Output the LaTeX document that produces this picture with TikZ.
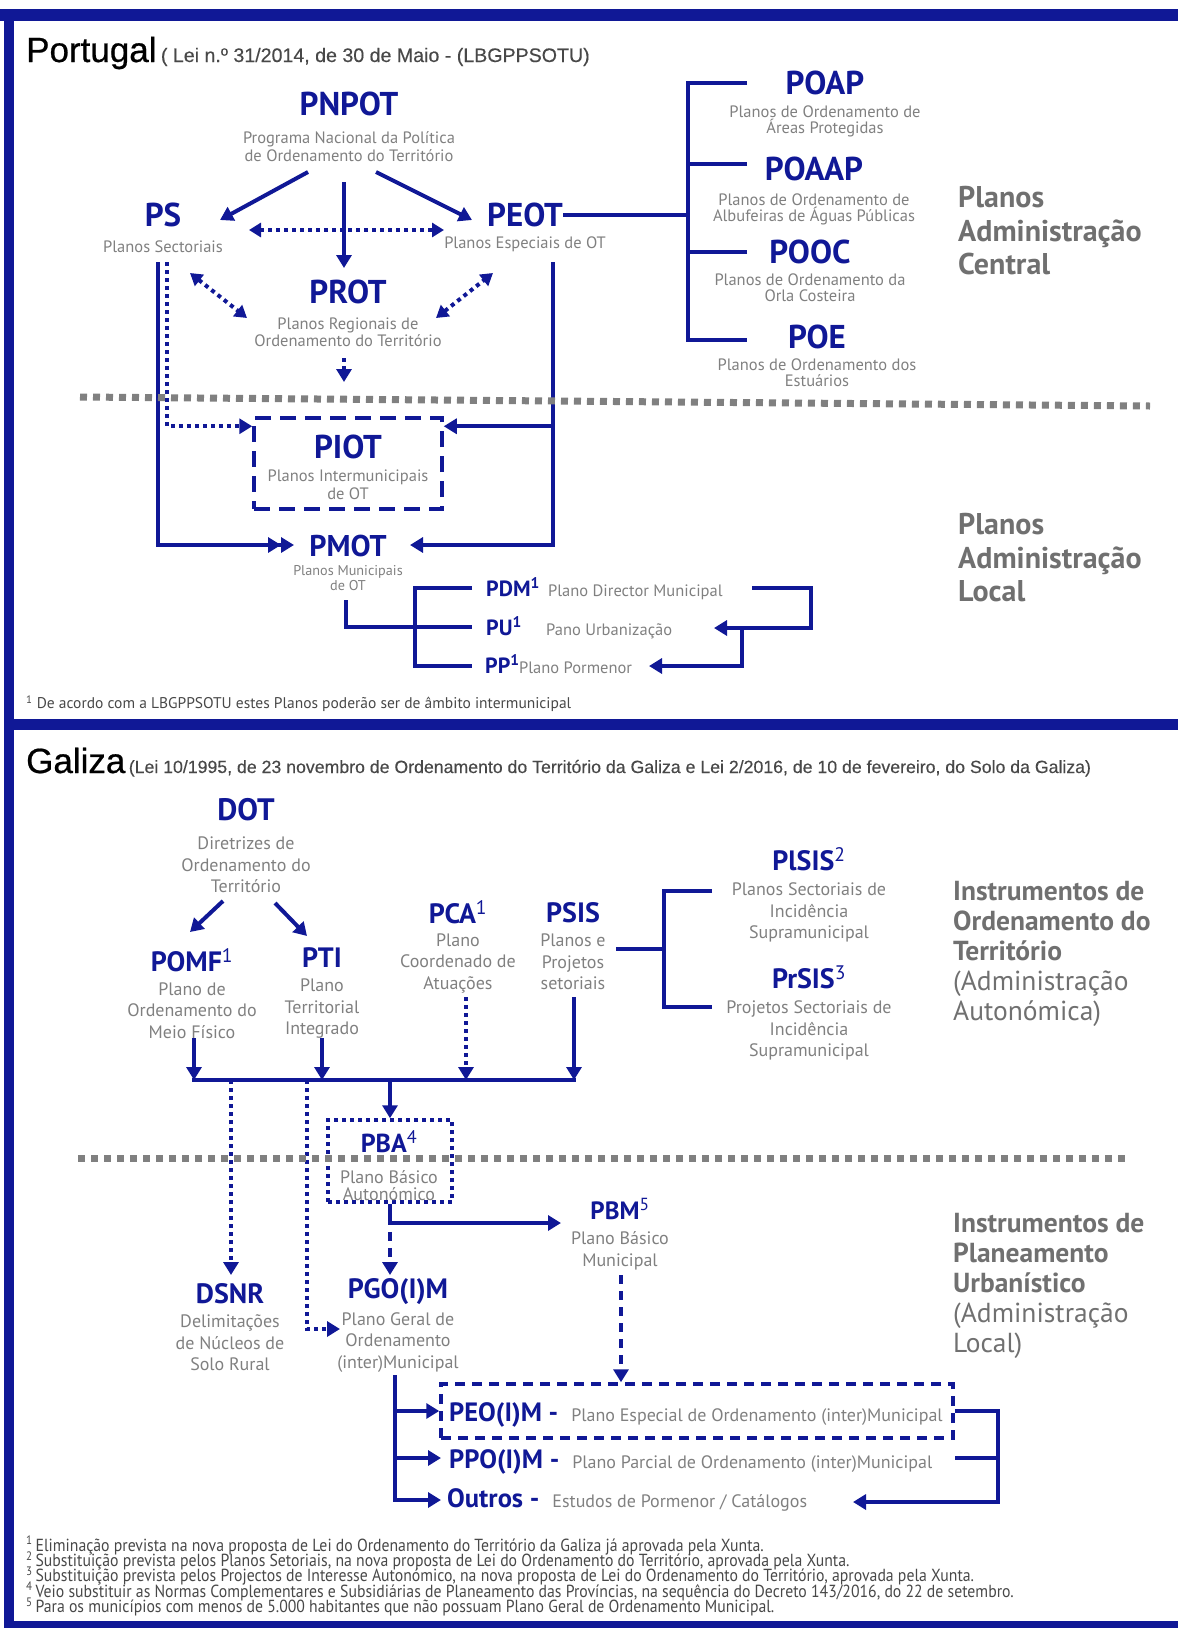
\documentclass[tikz,border=0pt]{standalone}
\usepackage{fontspec}
\setmainfont{PT Sans}
\newfontfamily\headfont[FakeBold=0.6]{Liberation Sans}
\newfontfamily\leifont[FakeBold=0.3]{Liberation Sans}
\newfontfamily\notefont[FakeStretch=0.9]{PT Sans}
\usetikzlibrary{arrows.meta,positioning}
\definecolor{nv}{RGB}{16,24,150}
\definecolor{gt}{RGB}{128,128,128}
\definecolor{hd}{RGB}{112,112,112}
\definecolor{dg}{RGB}{72,72,72}
\newcommand\supn[1]{\textsuperscript{\mdseries#1}}
\newcommand\tightlines{\setlength{\lineskiplimit}{-20pt}\setlength{\lineskip}{0pt}}
\tikzset{pl/.style={text=nv,font=\bfseries\fontsize{28}{28}\selectfont,inner sep=0pt},
 plb/.style={pl,font=\bfseries\fontsize{33}{33}\selectfont},
 pls/.style={pl,font=\bfseries\fontsize{22}{22}\selectfont},
 dsc/.style={text=gt,font=\fontsize{16.5}{17.5}\selectfont,align=center,inner sep=0pt},
 dscl/.style={dsc,font=\fontsize{18}{21.5}\selectfont},
 hdr/.style={text=hd,align=left,anchor=north west,inner sep=0pt},
 wire/.style={draw=nv,line width=4pt},
 arr/.style={wire,-{Triangle[length=13pt,width=15pt]}},
 arrr/.style={wire,-{Triangle[length=13pt,width=15pt]Triangle[length=13pt,width=15pt]}},
 darr/.style={wire,{Triangle[length=12pt,width=14pt]}-{Triangle[length=12pt,width=14pt]}},
 dotl/.style={dash pattern=on 4pt off 4pt},
 dashl/.style={dash pattern=on 9pt off 7pt},
 sepl/.style={draw=gt,line width=7pt,dash pattern=on 7pt off 6pt},
 note/.style={text=dg,anchor=west,inner sep=0pt}}
\begin{document}
\begin{tikzpicture}[x=1pt,y=-1pt]
\useasboundingbox (0,0) rectangle (1178,1628);
% frame
\fill[nv] (0,9) rectangle (1178,21);
\fill[nv] (4,9) rectangle (14,1628);
\fill[nv] (4,719) rectangle (1178,730);
\fill[nv] (4,1621) rectangle (1178,1628);

% ---------------- Portugal ----------------
\node[anchor=base west,inner sep=0pt,font=\headfont\fontsize{35}{35}\selectfont] (ptit) at (26,62) {Portugal};
\node[anchor=base west,inner sep=0pt,text=dg,font=\leifont\fontsize{19.6}{19.6}\selectfont] (plei) at ([xshift=4pt]ptit.base east) {( Lei n.º 31/2014, de 30 de Maio - (LBGPPSOTU)};

\node[plb] (pnpot) at (349,104) {PNPOT};
\node[dsc,below=15.4pt of pnpot] (pnpotd) {Programa Nacional da Política\\de Ordenamento do Território};
\node[plb] (ps) at (163,215) {PS};
\node[dsc,below=13.4pt of ps] (psd) {Planos Sectoriais};
\node[plb] (peot) at (525,215) {PEOT};
\node[dsc,below=9.4pt of peot] (peotd) {Planos Especiais de OT};
\node[plb] (prot) at (348,292) {PROT};
\node[dsc,below=13.4pt of prot,font=\fontsize{16.5}{16.5}\selectfont] (protd) {Planos Regionais de\\Ordenamento do Território};

\node[plb] (poap) at (825,83) {POAP};
\node[dsc,below=10.4pt of poap,font=\fontsize{16.5}{15.5}\selectfont\tightlines] (poapd) {Planos de Ordenamento de\\Áreas Protegidas};
\node[plb] (poaap) at (814,169) {POAAP};
\node[dsc,below=12.4pt of poaap,font=\fontsize{16.5}{15.5}\selectfont\tightlines] (poaapd) {Planos de Ordenamento de\\Albufeiras de Águas Públicas};
\node[plb] (pooc) at (810,252) {POOC};
\node[dsc,below=9.4pt of pooc,font=\fontsize{16.5}{15.5}\selectfont\tightlines] (poocd) {Planos de Ordenamento da\\Orla Costeira};
\node[plb] (poe) at (817,337) {POE};
\node[dsc,below=9.4pt of poe,font=\fontsize{16.5}{15.5}\selectfont\tightlines] (poed) {Planos de Ordenamento dos\\Estuários};
\node[hdr,font=\bfseries\fontsize{30}{33.5}\selectfont] (padc) at (958,186) {Planos\\Administração\\Central};

\node[draw=nv,line width=3.5pt,dash pattern=on 16pt off 9pt,minimum width=188pt,minimum height=91pt,inner sep=0pt] (piotb) at (348,463.5) {};
\node[plb] (piot) at (348,447) {PIOT};
\node[dsc,below=10.4pt of piot] (piotd) {Planos Intermunicipais\\de OT};
\node[pl,font=\bfseries\fontsize{30}{30}\selectfont] (pmot) at (348,546) {PMOT};
\node[dsc,below=8.4pt of pmot,font=\fontsize{14.2}{14.5}\selectfont] (pmotd) {Planos Municipais\\de OT};
\node[hdr,font=\bfseries\fontsize{30}{33.5}\selectfont] (palc) at (958,513) {Planos\\Administração\\Local};

\node[pls,anchor=base west] (pdm) at (486,596) {PDM\textsuperscript{1}};
\node[dsc,anchor=base west] (pdmd) at (548,596) {Plano Director Municipal};
\node[pls,anchor=base west] (pu) at (486,635) {PU\textsuperscript{1}};
\node[dsc,anchor=base west] (pud) at (546,635) {Pano Urbanização};
\node[pls,anchor=base west] (pp) at (485,673) {PP\textsuperscript{1}};
\node[dsc,anchor=base west] (ppd) at (519,673) {Plano Pormenor};
\node[note,font=\fontsize{15.5}{15.5}\selectfont] (pnote) at (26,704) {\textsuperscript{1} De acordo com a LBGPPSOTU estes Planos poderão ser de âmbito intermunicipal};

% connector ends
\coordinate (pn-l) at (308,172); \coordinate (ps-in) at (220,220);
\coordinate (pn-m) at (344,182); \coordinate (prot-in) at (344,268);
\coordinate (pn-r) at (376,172); \coordinate (peot-in) at (472,220);
\coordinate (h-l) at (249,230); \coordinate (h-r) at (444,230);
\coordinate (dl-a) at (190,273); \coordinate (dl-b) at (247,318);
\coordinate (dr-a) at (436,318); \coordinate (dr-b) at (493,273);
\coordinate (prot-dn) at (344,358); \coordinate (prot-to) at (344,382);
\coordinate (ps-dn) at (158,262); \coordinate (ps-dt) at (167,262);
\coordinate (peot-dn) at (553,262);
\coordinate (pmot-l) at (294,545); \coordinate (pmot-r) at (410,545);
\coordinate (piot-l) at ([yshift=-10pt]piotb.north west);
\coordinate (piot-r) at ([yshift=-10pt]piotb.north east);
\coordinate (brk) at (peot.east -| 688,0);
\coordinate (poap-in) at (747,83); \coordinate (poaap-in) at (747,164);
\coordinate (pooc-in) at (747,252); \coordinate (poe-in) at (747,340);
\coordinate (pmot-dn) at (346,600); \coordinate (pk) at (415,627);
\coordinate (pdm-in) at (472,588); \coordinate (pu-in) at (472,627); \coordinate (pp-in) at (472,666);
\coordinate (pdm-out) at (752,588); \coordinate (pu-ret) at (714,628);
\coordinate (pu-br) at (742,628); \coordinate (pp-ret) at (649,666);

\draw[arr] (pn-l) -- (ps-in);
\draw[arr] (pn-m) -- (prot-in);
\draw[arr] (pn-r) -- (peot-in);
\draw[darr,dotl] (h-l) -- (h-r);
\draw[darr,dotl] (dl-a) -- (dl-b);
\draw[darr,dotl] (dr-a) -- (dr-b);
\draw[arr,dotl] (prot-dn) -- (prot-to);
\draw[arrr] (ps-dn) |- (pmot-l);
\draw[arr,dotl] (ps-dt) |- (piot-l);
\draw[arr] (peot-dn) |- (pmot-r);
\draw[arr] (peot-dn |- piot-r) -- (piot-r);
\draw[wire] (peot.east) -- (brk);
\draw[wire] (poap-in) -| (brk) |- (poe-in);
\draw[wire] (poaap-in) -- (poaap-in -| brk);
\draw[wire] (pooc-in) -- (pooc-in -| brk);
\draw[wire] (pmot-dn) |- (pk);
\draw[wire] (pdm-in) -| (pk) |- (pp-in);
\draw[wire] (pk) -- (pu-in);
\draw[arr] (pdm-out) -- ++(59,0) |- (pu-ret);
\draw[arr] (pu-br) |- (pp-ret);

% ---------------- Galiza ----------------
\node[anchor=base west,inner sep=0pt,font=\headfont\fontsize{35}{35}\selectfont] (gtit) at (26,773) {Galiza};
\node[anchor=base west,inner sep=0pt,text=dg,font=\leifont\fontsize{17.7}{17.7}\selectfont] (glei) at ([xshift=3pt]gtit.base east) {(Lei 10/1995, de 23 novembro de Ordenamento do Território da Galiza e Lei 2/2016, de 10 de fevereiro, do Solo da Galiza)};

\node[pl,font=\bfseries\fontsize{31}{31}\selectfont] (dot) at (246,810) {DOT};
\node[dscl,below=15.5pt of dot] (dotd) {Diretrizes de\\Ordenamento do\\Território};
\node[pl] (pomf) at (192,960) {POMF\supn{1}};
\node[dscl,below=10.5pt of pomf] (pomfd) {Plano de\\Ordenamento do\\Meio Físico};
\node[pl] (pti) at (322,958) {PTI};
\node[dscl,below=10.5pt of pti] (ptid) {Plano\\Territorial\\Integrado};
\node[pl] (pca) at (458,912) {PCA\supn{1}};
\node[dscl,below=9.5pt of pca] (pcad) {Plano\\Coordenado de\\Atuações};
\node[pl] (psis) at (573,913) {PSIS};
\node[dscl,below=10.5pt of psis] (psisd) {Planos e\\Projetos\\setoriais};
\node[pl] (pisis) at (809,859) {PlSIS\supn{2}};
\node[dscl,below=12pt of pisis] (pisisd) {Planos Sectoriais de\\Incidência\\Supramunicipal};
\node[pl] (prsis) at (809,977) {PrSIS\supn{3}};
\node[dscl,below=12pt of prsis] (prsisd) {Projetos Sectoriais de\\Incidência\\Supramunicipal};
\node[hdr,font=\fontsize{27.5}{30}\selectfont] (giot) at (953,881) {\textbf{Instrumentos de}\\\textbf{Ordenamento do}\\\textbf{Território}\\(Administração\\Autonómica)};

\node[draw=nv,line width=3.5pt,dotl,minimum width=124pt,minimum height=82pt,inner sep=0pt] (pbab) at (390,1161) {};
\node[pl,font=\bfseries\fontsize{26}{26}\selectfont] (pba) at (389,1142) {PBA\supn{4}};
\node[dsc,below=17pt of pba,font=\fontsize{18}{17}\selectfont\tightlines] (pbad) {Plano Básico\\Autonómico};
\node[pl,font=\bfseries\fontsize{25}{25}\selectfont] (pbm) at (620,1209) {PBM\supn{5}};
\node[dsc,below=11.6pt of pbm,font=\fontsize{18}{21.5}\selectfont] (pbmd) {Plano Básico\\Municipal};
\node[pl] (dsnr) at (230,1294) {DSNR};
\node[dscl,below=10.5pt of dsnr] (dsnrd) {Delimitações\\de Núcleos de\\Solo Rural};
\node[pl] (pgo) at (398,1292) {PGO(I)M};
\node[dscl,below=7pt of pgo] (pgod) {Plano Geral de\\Ordenamento\\(inter)Municipal};
\node[hdr,font=\fontsize{27.5}{30}\selectfont] (gipu) at (953,1213) {\textbf{Instrumentos de}\\\textbf{Planeamento}\\\textbf{Urbanístico}\\(Administração\\Local)};

\node[draw=nv,line width=3.5pt,dash pattern=on 10pt off 7pt,minimum width=512pt,minimum height=54pt,inner sep=0pt] (peob) at (697,1411) {};
\node[anchor=base west,inner sep=0pt] (peo) at (449,1421) {\textcolor{nv}{\bfseries\fontsize{26.5}{26}\selectfont PEO(I)M -}\hspace{13pt}\textcolor{gt}{\fontsize{18}{18}\selectfont Plano Especial de Ordenamento (inter)Municipal}};
\node[anchor=base west,inner sep=0pt] (ppo) at (449,1468) {\textcolor{nv}{\bfseries\fontsize{26.5}{26}\selectfont PPO(I)M -}\hspace{13pt}\textcolor{gt}{\fontsize{18}{18}\selectfont Plano Parcial de Ordenamento (inter)Municipal}};
\node[anchor=base west,inner sep=0pt] (out) at (447,1507) {\textcolor{nv}{\bfseries\fontsize{26.5}{26}\selectfont Outros -}\hspace{13pt}\textcolor{gt}{\fontsize{18}{18}\selectfont Estudos de Pormenor / Catálogos}};

\node[note,anchor=north west,align=left,font=\notefont\fontsize{17.5}{15.3}\selectfont\tightlines] (gnote) at (26,1536) {\textsuperscript{1}\,Eliminação prevista na nova proposta de Lei do Ordenamento do Território da Galiza já aprovada pela Xunta.\\
\textsuperscript{2}\,Substituição prevista pelos Planos Setoriais, na nova proposta de Lei do Ordenamento do Território, aprovada pela Xunta.\\
\textsuperscript{3}\,Substituição prevista pelos Projectos de Interesse Autonómico, na nova proposta de Lei do Ordenamento do Território, aprovada pela Xunta.\\
\textsuperscript{4}\,Veio substituir as Normas Complementares e Subsidiárias de Planeamento das Províncias, na sequência do Decreto 143/2016, do 22 de setembro.\\
\textsuperscript{5}\,Para os municípios com menos de 5.000 habitantes que não possuam Plano Geral de Ordenamento Municipal.};

% connector ends
\coordinate (dot-l) at (223,901); \coordinate (pomf-in) at (190,932);
\coordinate (dot-r) at (275,903); \coordinate (pti-in) at (307,936);
\coordinate (bar-w) at (192,1080); \coordinate (bar-e) at (576,1080);
\coordinate (pomf-dn) at (194,1038); \coordinate (pti-dn) at (322,1038);
\coordinate (pca-dn) at (466,997); \coordinate (psis-dn) at (574,997);
\coordinate (psis-r) at (616,949); \coordinate (gk) at (664,949);
\coordinate (pisis-in) at (712,891); \coordinate (prsis-in) at (712,1007);
\coordinate (dsnr-in) at (231,1275); \coordinate (bar-d) at (307,1080);
\coordinate (pgo-l) at (340,1329); \coordinate (pgo-in) at (390,1275);
\coordinate (pbm-l) at (561,1223); \coordinate (pbm-dn) at (621,1275);
\coordinate (pgo-dn) at (395,1375);
\coordinate (ppo-in) at (441,1458); \coordinate (out-in) at (441,1500);
\coordinate (ppo-out) at (955,1458); \coordinate (rbr) at (998,1458);
\coordinate (out-ret) at (853,1502);

\draw[arr] (dot-l) -- (pomf-in);
\draw[arr] (dot-r) -- (pti-in);
\draw[wire] (bar-w) -- (bar-e);
\draw[arr] (pomf-dn) -- (pomf-dn |- bar-w);
\draw[arr] (pti-dn) -- (pti-dn |- bar-w);
\draw[arr,dotl] (pca-dn) -- (pca-dn |- bar-w);
\draw[arr] (psis-dn) -- (psis-dn |- bar-w);
\draw[wire] (psis-r) -- (gk);
\draw[wire] (pisis-in) -| (gk) |- (prsis-in);
\draw[arr] (pbab.north |- bar-w) -- (pbab.north);
\draw[arr,dotl] (dsnr-in |- bar-w) -- (dsnr-in);
\draw[arr,dotl] (bar-d) |- (pgo-l);
\draw[arr] (pbab.south) |- (pbm-l);
\draw[arr,dashl] ([yshift=-28pt]pbab.south) -- (pgo-in);
\draw[arr,dashl] (pbm-dn) -- (pbm-dn |- peob.north);
\draw[arr] (pgo-dn) |- (out-in);
\draw[arr] (pgo-dn |- peob.west) -- (peob.west);
\draw[arr] (pgo-dn |- ppo-in) -- (ppo-in);
\draw[wire] (ppo-out) -- (rbr);
\draw[arr] (peob.east) -| (rbr) |- (out-ret);

% level separators
\draw[sepl] (80,397) -- (1150,406);
\draw[sepl] (78,1158) -- (1126,1158);
\end{tikzpicture}
\end{document}
